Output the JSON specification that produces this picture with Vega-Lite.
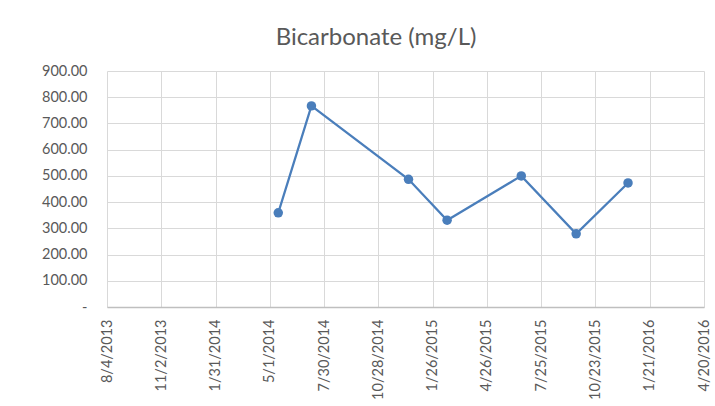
{
  "$schema": "https://vega.github.io/schema/vega-lite/v6.json",
  "width": 597,
  "height": 236,
  "autosize": {"type": "none"},
  "padding": {"left": 107, "top": 71, "right": 11, "bottom": 99},
  "background": "white",
  "title": {
    "text": "Bicarbonate (mg/L)",
    "anchor": "middle",
    "frame": "bounds",
    "font": "Lato",
    "fontSize": 24,
    "fontWeight": "normal",
    "color": "#595959",
    "offset": 13
  },
  "config": {
    "view": {"stroke": null},
    "axis": {
      "labelFont": "Lato",
      "labelFontSize": 14.5,
      "labelColor": "#595959",
      "gridColor": "#d9d9d9",
      "gridWidth": 1,
      "gridOpacity": 1,
      "ticks": false,
      "title": null
    }
  },
  "data": {
    "values": [
      {"date": "2014-05-15", "value": 359},
      {"date": "2014-07-09", "value": 767},
      {"date": "2014-12-17", "value": 487},
      {"date": "2015-02-19", "value": 331},
      {"date": "2015-06-22", "value": 500},
      {"date": "2015-09-21", "value": 279},
      {"date": "2015-12-16", "value": 473}
    ]
  },
  "encoding": {
    "x": {
      "field": "date",
      "type": "temporal",
      "scale": {
        "type": "utc",
        "domain": [
          {"year": 2013, "month": 8, "date": 4, "utc": true},
          {"year": 2016, "month": 4, "date": 20, "utc": true}
        ]
      },
      "axis": {
        "values": [
          {"year": 2013, "month": 8, "date": 4, "utc": true},
          {"year": 2013, "month": 11, "date": 2, "utc": true},
          {"year": 2014, "month": 1, "date": 31, "utc": true},
          {"year": 2014, "month": 5, "date": 1, "utc": true},
          {"year": 2014, "month": 7, "date": 30, "utc": true},
          {"year": 2014, "month": 10, "date": 28, "utc": true},
          {"year": 2015, "month": 1, "date": 26, "utc": true},
          {"year": 2015, "month": 4, "date": 26, "utc": true},
          {"year": 2015, "month": 7, "date": 25, "utc": true},
          {"year": 2015, "month": 10, "date": 23, "utc": true},
          {"year": 2016, "month": 1, "date": 21, "utc": true},
          {"year": 2016, "month": 4, "date": 20, "utc": true}
        ],
        "labelExpr": "utcFormat(datum.value, '%-m/%-d/%Y')",
        "labelAngle": -90,
        "labelAlign": "right",
        "labelBaseline": "middle",
        "labelPadding": 12,
        "labelOverlap": false,
        "labelFlush": false,
        "domainColor": "#bfbfbf",
        "domainWidth": 1.5,
        "grid": true
      }
    },
    "y": {
      "field": "value",
      "type": "quantitative",
      "scale": {"domain": [0, 900], "nice": false},
      "axis": {
        "values": [0, 100, 200, 300, 400, 500, 600, 700, 800, 900],
        "labelExpr": "datum.value == 0 ? '-      ' : format(datum.value, '.2f')",
        "labelPadding": 20,
        "domain": false,
        "grid": true
      }
    }
  },
  "layer": [
    {"mark": {"type": "line", "color": "#4a7ebb", "strokeWidth": 2.25}},
    {"mark": {"type": "point", "filled": true, "opacity": 1, "color": "#4a7ebb", "size": 90}}
  ]
}
